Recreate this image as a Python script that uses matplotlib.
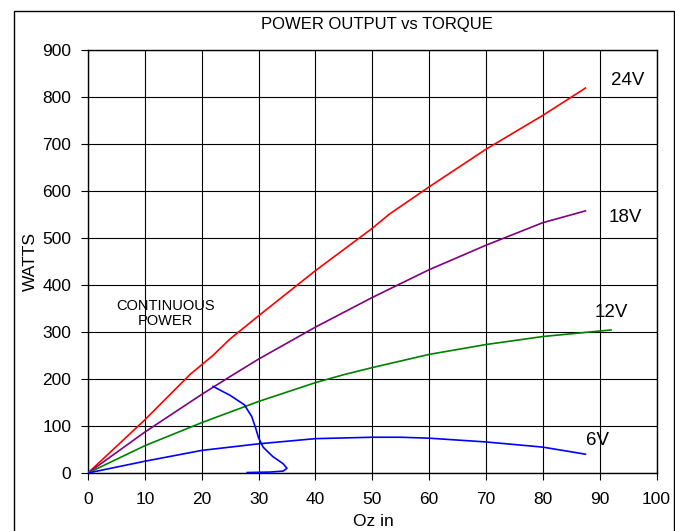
import matplotlib
matplotlib.use("Agg")
import matplotlib.pyplot as plt
from matplotlib.patches import Rectangle

plt.rcParams['font.family'] = ['Liberation Sans', 'DejaVu Sans']

# ------------------------------------------------------------
# data (torque in oz-in, power in watts)
# ------------------------------------------------------------
x_24v = [0, 10, 18, 22, 25, 30, 40, 50, 53, 60, 70, 80, 87.5]
y_24v = [0, 113, 210, 250, 285, 334, 430, 520, 550, 608, 688, 760, 818]

x_18v = [0, 10, 20, 25, 30, 40, 50, 60, 70, 80, 87.5]
y_18v = [0, 87, 167, 205, 242, 310, 373, 432, 484, 532, 557]

x_12v = [0, 10, 20, 30, 40, 45, 50, 55, 60, 70, 80, 92]
y_12v = [0, 58, 107, 152, 192, 209, 224, 238, 252, 273, 290, 304]

x_6v = [0, 10, 20, 25, 30, 40, 50, 55, 60, 70, 80, 87.5]
y_6v = [0, 25, 48, 55, 62, 73, 76, 76, 74, 66, 55, 40]

# continuous power boundary
x_cont = [22, 25, 27.5, 28.8, 29.5, 30, 30.8, 32.5, 34.3, 35, 34.3, 32, 28]
y_cont = [184, 165, 145, 120, 95, 75, 55, 35, 20, 10, 4, 2, 1]

series = [
    (x_24v, y_24v, 'red', '24V', (95, 834)),
    (x_18v, y_18v, '#800080', '18V', (94.5, 542)),
    (x_12v, y_12v, 'green', '12V', (92, 341)),
    (x_6v, y_6v, 'blue', '6V', (89.6, 70)),
]

x_ticks = list(range(0, 101, 10))
y_ticks = list(range(0, 901, 100))

# ------------------------------------------------------------
# plot
# ------------------------------------------------------------
fig = plt.figure(figsize=(6.75, 5.31), dpi=100)
ax = fig.add_axes([88 / 675, 1 - 473 / 531, (656.5 - 88) / 675, (473 - 49.5) / 531])

for xs, ys, col, lab, pos in series:
    ax.plot(xs, ys, color=col, lw=1.2, zorder=3)
    ax.text(pos[0], pos[1], lab, fontsize=13.5, ha='center', va='center', zorder=4)

ax.plot(x_cont, y_cont, color='blue', lw=1.2, zorder=3)
ax.text(13.6, 339, "CONTINUOUS\nPOWER", fontsize=10.5, ha='center', va='center',
        linespacing=1.1)

ax.set_xlim(0, 100)
ax.set_ylim(0, 900)
ax.set_xticks(x_ticks)
ax.set_yticks(y_ticks)
ax.tick_params(labelsize=12.5, length=5, width=0.8, color='black')
ax.tick_params(axis='x', pad=9)
ax.tick_params(axis='y', pad=7)
ax.grid(True, color='black', lw=0.8)
for s in ax.spines.values():
    s.set_linewidth(1.0)

ax.set_xlabel("Oz in", fontsize=12.5)
ax.xaxis.set_label_coords(0.502, -0.097)
ax.set_ylabel("WATTS", fontsize=12.5)
ax.yaxis.set_label_coords(-0.088, 0.5)
fig.text(377 / 675, 1 - 24 / 531, "POWER OUTPUT vs TORQUE", fontsize=12,
         ha='center', va='center')

# outer frame around the whole chart
fig.add_artist(Rectangle((14 / 675, -0.1), 660 / 675, 1.1 - 11 / 531,
                         transform=fig.transFigure, fill=False,
                         edgecolor='black', lw=1.0))

plt.savefig("out.png", dpi=100)
